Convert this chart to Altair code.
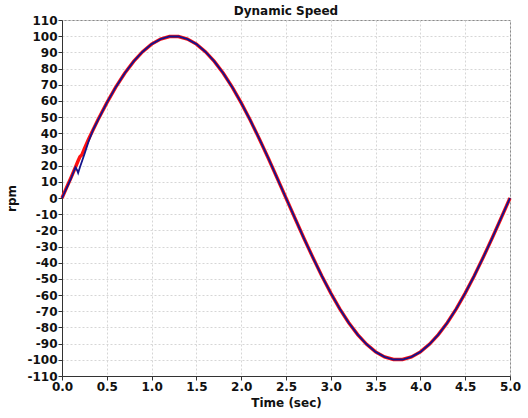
import altair as alt
import pandas as pd

# Reference (red) speed trace, rpm vs seconds
ref_t = [0.0, 0.05, 0.1, 0.15, 0.18, 0.2, 0.22, 0.25, 0.3, 0.4, 0.5, 0.6, 0.7, 0.8, 0.9,
         1.0, 1.1, 1.2, 1.3, 1.4, 1.5, 1.6, 1.7, 1.8, 1.9, 2.0, 2.1, 2.2, 2.3, 2.4,
         2.5, 2.6, 2.7, 2.8, 2.9, 3.0, 3.1, 3.2, 3.3, 3.4, 3.5, 3.6, 3.7, 3.8, 3.9,
         4.0, 4.1, 4.2, 4.3, 4.4, 4.5, 4.6, 4.7, 4.8, 4.9, 5.0]
ref_v = [0.0, 6.3, 12.5, 19.0, 23.0, 25.5, 26.5, 30.5, 36.8, 48.2, 58.8, 68.5, 77.1, 84.4, 90.4,
         95.1, 98.2, 99.8, 99.8, 98.2, 95.1, 90.4, 84.4, 77.1, 68.5, 58.8, 48.2, 36.8, 24.9, 12.5,
         0.0, -12.5, -24.9, -36.8, -48.2, -58.8, -68.5, -77.1, -84.4, -90.4, -95.1, -98.2, -99.8, -99.8, -98.2,
         -95.1, -90.4, -84.4, -77.1, -68.5, -58.8, -48.2, -36.8, -24.9, -12.5, 0.0]

# Measured (blue) speed trace
act_t = [0.0, 0.05, 0.1, 0.15, 0.17, 0.18, 0.2, 0.25, 0.3, 0.35, 0.4, 0.5, 0.6, 0.7, 0.8, 0.9,
         1.0, 1.1, 1.2, 1.3, 1.4, 1.5, 1.6, 1.7, 1.8, 1.9, 2.0, 2.1, 2.2, 2.3, 2.4,
         2.5, 2.6, 2.7, 2.8, 2.9, 3.0, 3.1, 3.2, 3.3, 3.4, 3.5, 3.6, 3.7, 3.8, 3.9,
         4.0, 4.1, 4.2, 4.3, 4.4, 4.5, 4.6, 4.7, 4.8, 4.9, 5.0]
act_v = [0.0, 6.0, 12.0, 19.0, 17.0, 15.5, 19.0, 27.0, 35.5, 42.5, 48.0, 58.8, 68.5, 77.1, 84.4, 90.4,
         95.1, 98.2, 99.8, 99.8, 98.2, 95.1, 90.4, 84.4, 77.1, 68.5, 58.8, 48.2, 36.8, 24.9, 12.5,
         0.0, -12.5, -24.9, -36.8, -48.2, -58.8, -68.5, -77.1, -84.4, -90.4, -95.1, -98.2, -99.8, -99.8, -98.2,
         -95.1, -90.4, -84.4, -77.1, -68.5, -58.8, -48.2, -36.8, -24.9, -12.5, 0.0]

x_ticks = [0.0, 0.5, 1.0, 1.5, 2.0, 2.5, 3.0, 3.5, 4.0, 4.5, 5.0]
y_ticks = list(range(-110, 111, 10))

FONT = "DejaVu Sans"

df_ref = pd.DataFrame({"t": ref_t, "v": ref_v})
df_act = pd.DataFrame({"t": act_t, "v": act_v})

x_enc = alt.X("t:Q", title="Time (sec)",
              scale=alt.Scale(domain=[0, 5], nice=False, zero=False),
              axis=alt.Axis(values=x_ticks, format=".1f", labelFlush=False, labelOverlap=False))
y_enc = alt.Y("v:Q", title="rpm",
              scale=alt.Scale(domain=[-110, 110], nice=False),
              axis=alt.Axis(values=y_ticks, labelExpr="'' + datum.value", labelOverlap=False,
                            labelFlush=False, labelBound=False))

ref_line = alt.Chart(df_ref).mark_line(color="#ff1010", strokeWidth=3.4).encode(
    x=x_enc, y=y_enc, order="t:Q")
act_line = alt.Chart(df_act).mark_line(color="#14148c", strokeWidth=1.8).encode(
    x=x_enc, y=y_enc, order="t:Q")

chart = alt.layer(ref_line, act_line).properties(
    width=448, height=356,
    title=alt.TitleParams("Dynamic Speed", font=FONT, fontSize=12, fontWeight="bold",
                          color="#111111", anchor="middle", offset=-4),
    autosize=alt.AutoSizeParams(type="none"),
    padding={"left": 62, "top": 20, "right": 18, "bottom": 42},
).configure_view(
    stroke="#8a8a8a", strokeWidth=1
).configure_axis(
    labelFont=FONT, labelFontSize=12, labelFontWeight="bold", labelColor="#111111",
    titleFont=FONT, titleFontSize=12, titleFontWeight="bold", titleColor="#111111",
    domainColor="#333333", tickColor="#333333", tickSize=4,
    gridColor="#d6d6d6", gridDash=[2, 2], gridWidth=1,
    labelPadding=1, labelOverlap=False,
).configure_axisX(
    titlePadding=5
).configure_axisY(
    titlePadding=8
)

chart.save("out.html", embed_options={"renderer": "svg", "actions": False})
